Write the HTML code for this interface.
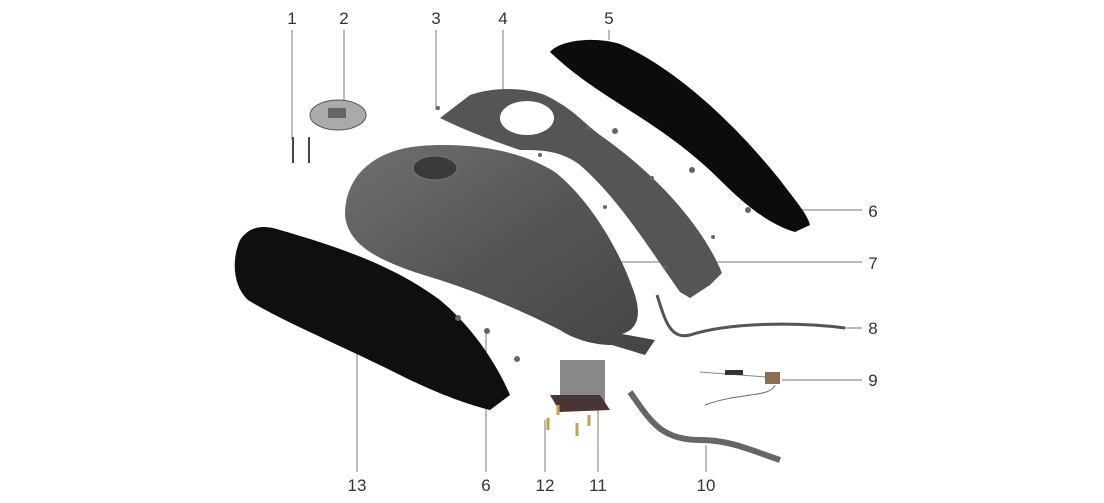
<!DOCTYPE html>
<html><head><meta charset="utf-8"><style>
html,body{margin:0;padding:0;background:#fff;width:1104px;height:503px;overflow:hidden}
text{font-family:"Liberation Sans",sans-serif;font-size:17px;fill:#333}
</style></head><body>
<svg width="1104" height="503" viewBox="0 0 1104 503" xmlns="http://www.w3.org/2000/svg">
<defs>
<linearGradient id="tank" x1="0" y1="0" x2="1" y2="1"><stop offset="0" stop-color="#707070"/><stop offset="0.5" stop-color="#555"/><stop offset="1" stop-color="#444"/></linearGradient>
</defs>
<g stroke="#777" stroke-width="1" fill="none">
<line x1="292" y1="30" x2="292" y2="140"/>
<line x1="344" y1="30" x2="344" y2="100"/>
<line x1="436" y1="30" x2="436" y2="110"/>
<line x1="503" y1="30" x2="503" y2="92"/>
<line x1="609" y1="30" x2="609" y2="40"/>
<line x1="760" y1="210" x2="862" y2="210"/>
<line x1="587" y1="262" x2="862" y2="262"/>
<line x1="845" y1="328" x2="862" y2="328"/>
<line x1="782" y1="380" x2="862" y2="380"/>
<line x1="706" y1="472" x2="706" y2="445"/>
<line x1="598" y1="472" x2="598" y2="410"/>
<line x1="545" y1="472" x2="545" y2="420"/>
<line x1="357" y1="472" x2="357" y2="320"/>
<line x1="486" y1="472" x2="486" y2="330"/>
</g>
<!-- right panel 5 -->
<path d="M550,52 C560,40 595,36 620,44 C680,70 740,130 780,180 C795,200 808,215 810,225 L795,232 C770,225 745,205 720,180 C660,120 600,100 550,52 Z" fill="#0c0c0c"/>
<!-- strap 4 -->
<path d="M440,118 L470,95 C490,88 520,86 545,95 C575,110 580,120 600,135 C650,170 700,220 722,273 L710,285 L690,298 L680,292 C650,250 620,200 580,165 C560,150 540,150 520,150 C490,140 460,128 440,118 Z" fill="#555"/>
<ellipse cx="527" cy="118" rx="27" ry="17" fill="#fff"/>
<!-- tank -->
<path d="M345,215 C345,175 375,150 420,146 C470,142 520,150 555,172 C590,200 620,250 635,295 C642,318 636,330 622,334 L655,340 L645,355 L612,345 C595,345 575,340 560,330 C520,310 480,293 440,280 C390,265 348,250 345,215 Z" fill="url(#tank)"/>
<ellipse cx="435" cy="168" rx="22" ry="12" fill="#3a3a3a" stroke="#777"/>
<!-- left panel 13 -->
<path d="M240,240 C250,225 265,225 280,230 C350,250 400,270 440,300 C470,325 495,360 510,395 L490,410 C470,405 440,395 400,375 C340,345 280,320 248,300 C232,285 232,258 240,240 Z" fill="#0f0f0f"/>
<!-- fuel cap 2 -->
<ellipse cx="338" cy="115" rx="28" ry="15" fill="#aaa" stroke="#555"/>
<rect x="328" y="108" width="18" height="10" fill="#666"/>
<!-- bolts 1 -->
<g stroke="#444" stroke-width="2"><line x1="293" y1="137" x2="293" y2="163"/><line x1="309" y1="137" x2="309" y2="163"/></g>
<!-- small screws -->
<g fill="#666"><circle cx="458" cy="318" r="3"/><circle cx="487" cy="331" r="3"/><circle cx="517" cy="359" r="3"/><circle cx="615" cy="131" r="3"/><circle cx="692" cy="170" r="3"/><circle cx="748" cy="210" r="3"/><circle cx="588" cy="128" r="2"/><circle cx="540" cy="155" r="2"/><circle cx="652" cy="178" r="2"/><circle cx="605" cy="207" r="2"/><circle cx="713" cy="237" r="2"/><circle cx="665" cy="267" r="2"/><circle cx="438" cy="108" r="2"/></g>
<!-- pump 11 -->
<rect x="560" y="360" width="45" height="45" fill="#888"/>
<path d="M550,395 L600,395 L610,410 L560,412 Z" fill="#4a3535"/>
<g stroke="#c9a040" stroke-width="3"><line x1="548" y1="418" x2="548" y2="430"/><line x1="558" y1="405" x2="558" y2="415"/><line x1="577" y1="423" x2="577" y2="436"/><line x1="589" y1="415" x2="589" y2="426"/></g>
<!-- hoses -->
<path d="M657,295 C665,320 670,340 690,335 C730,322 800,322 845,328" stroke="#555" stroke-width="3" fill="none"/>
<path d="M630,392 C650,420 660,440 700,440 C730,440 750,450 780,460" stroke="#666" stroke-width="6" fill="none"/>
<!-- sensor 9 -->
<path d="M700,372 L780,378" stroke="#888" stroke-width="1"/>
<rect x="725" y="370" width="18" height="5" fill="#333"/>
<rect x="765" y="372" width="15" height="12" fill="#8a7050"/>
<path d="M775,385 C770,398 740,392 705,405" stroke="#666" fill="none"/>
<text x="292" y="24" text-anchor="middle">1</text>
<text x="344" y="24" text-anchor="middle">2</text>
<text x="436" y="24" text-anchor="middle">3</text>
<text x="503" y="24" text-anchor="middle">4</text>
<text x="609" y="24" text-anchor="middle">5</text>
<text x="873" y="217" text-anchor="middle">6</text>
<text x="873" y="269" text-anchor="middle">7</text>
<text x="873" y="334" text-anchor="middle">8</text>
<text x="873" y="386" text-anchor="middle">9</text>
<text x="706" y="491" text-anchor="middle">10</text>
<text x="598" y="491" text-anchor="middle">11</text>
<text x="545" y="491" text-anchor="middle">12</text>
<text x="357" y="491" text-anchor="middle">13</text>
<text x="486" y="491" text-anchor="middle">6</text>
</svg>
</body></html>
